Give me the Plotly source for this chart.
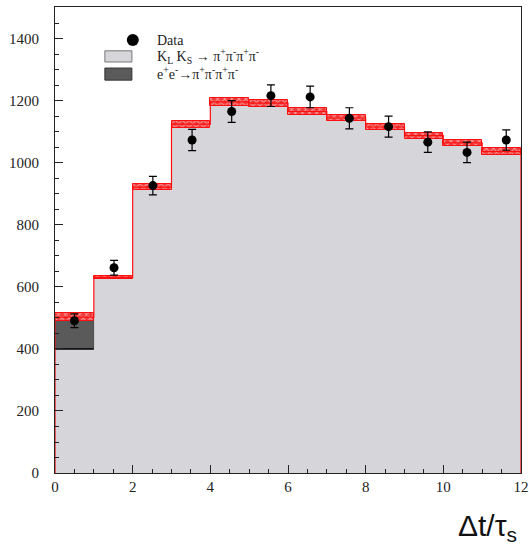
import plotly.graph_objects as go

# ---------------- data ----------------
bin_left = [0, 1, 2, 3, 4, 5, 6, 7, 8, 9, 10, 11]
bin_width = 1.0
klks = [400, 631, 922, 1125, 1197, 1193, 1166, 1145, 1116, 1088, 1065, 1037]
eeb = [103, 0, 0, 0, 0, 0, 0, 0, 0, 0, 0, 0]
mc_err = [12, 5, 10, 11, 12, 11, 10, 11, 11, 10, 10, 10]

data_x = [0.5, 1.52, 2.52, 3.53, 4.55, 5.56, 6.57, 7.58, 8.59, 9.6, 10.61, 11.62]
data_y = [491, 662, 927, 1074, 1166, 1217, 1213, 1144, 1117, 1067, 1034, 1074]
data_err = [22, 24, 30, 34, 35, 35, 35, 34, 34, 33, 33, 33]

x_ticks = [0, 2, 4, 6, 8, 10, 12]
y_ticks = [0, 200, 400, 600, 800, 1000, 1200, 1400]

# ---------------- derived ----------------
centers = [l + bin_width / 2 for l in bin_left]
total = [a + b for a, b in zip(klks, eeb)]
band_base = [t - e for t, e in zip(total, mc_err)]
band_h = [2 * e for e in mc_err]

step_x = [bin_left[0]] + bin_left + [bin_left[-1] + bin_width, bin_left[-1] + bin_width]
step_y = [0] + total + [total[-1], 0]

SERIF = "Liberation Serif"
fig = go.Figure()

# K_L K_S light gray
fig.add_trace(go.Bar(
    x=centers, y=klks, base=[0] * len(klks), width=bin_width,
    marker=dict(color="#d6d6da", line=dict(width=0)),
    showlegend=False, hoverinfo="skip"))
# e+e- dark gray
fig.add_trace(go.Bar(
    x=centers, y=eeb, base=klks, width=bin_width,
    marker=dict(color="#5a5a5a", line=dict(color="#333", width=0.8)),
    showlegend=False, hoverinfo="skip"))
# black top edge of the K_L K_S histogram under the e+e- part (first bin)
fig.add_trace(go.Scatter(
    x=[bin_left[0], bin_left[0] + bin_width], y=[klks[0], klks[0]], mode="lines",
    line=dict(color="black", width=1.5), showlegend=False, hoverinfo="skip"))
# red step line
fig.add_trace(go.Scatter(
    x=step_x, y=step_y, mode="lines", line=dict(color="#ff1010", width=1.2, shape="hv"),
    showlegend=False, hoverinfo="skip"))
# red hatched error band
fig.add_trace(go.Bar(
    x=centers, y=band_h, base=band_base, width=bin_width,
    marker=dict(color="#f03a3a",
                pattern=dict(shape="x", fgcolor="white", bgcolor="#f03a3a", size=5, solidity=0.35),
                line=dict(color="#ff1010", width=1)),
    showlegend=False, hoverinfo="skip"))
# data
fig.add_trace(go.Scatter(
    x=data_x, y=data_y, mode="markers",
    marker=dict(color="black", size=9),
    error_y=dict(type="data", array=data_err, color="black", thickness=1.2, width=4),
    showlegend=False, hoverinfo="skip"))

# ---------------- manual legend ----------------
fig.add_shape(type="rect", xref="paper", yref="paper", x0=0.107, x1=0.165, y0=0.882, y1=0.906,
              fillcolor="#d6d6da", line=dict(color="#777", width=1))
fig.add_shape(type="rect", xref="paper", yref="paper", x0=0.107, x1=0.165, y0=0.843, y1=0.869,
              fillcolor="#5a5a5a", line=dict(color="#333", width=1))
fig.add_trace(go.Scatter(x=[0.167], y=[0.929], xaxis="x2", yaxis="y2", mode="markers",
                         marker=dict(color="black", size=12), showlegend=False, hoverinfo="skip"))
leg_font = dict(family=SERIF, size=14, color="#222")
fig.add_annotation(xref="paper", yref="paper", x=0.214, y=0.929, xanchor="left", yanchor="middle",
                   text="Data", showarrow=False, font=leg_font)
fig.add_annotation(xref="paper", yref="paper", x=0.214, y=0.894, xanchor="left", yanchor="middle",
                   text="K<sub>L</sub> K<sub>S</sub> → π<sup>+</sup>π<sup>-</sup>π<sup>+</sup>π<sup>-</sup>",
                   showarrow=False, font=leg_font)
fig.add_annotation(xref="paper", yref="paper", x=0.214, y=0.858, xanchor="left", yanchor="middle",
                   text="e<sup>+</sup>e<sup>-</sup>→π<sup>+</sup>π<sup>-</sup>π<sup>+</sup>π<sup>-</sup>",
                   showarrow=False, font=leg_font)

# axis title
fig.add_annotation(xref="paper", yref="paper", x=0.996, y=-0.118, xanchor="right", yanchor="middle",
                   text="Δt/τ<sub>s</sub>", showarrow=False,
                   font=dict(family="Liberation Sans", size=30, color="#111"))

fig.update_layout(
    width=529, height=549,
    margin=dict(l=55, r=8, t=7, b=76, autoexpand=False),
    paper_bgcolor="white", plot_bgcolor="white",
    barmode="overlay", bargap=0,
    xaxis=dict(range=[0, 12], tickvals=x_ticks, ticks="inside", ticklen=8, tickcolor="#222",
               minor=dict(dtick=0.5, ticks="inside", ticklen=4, tickcolor="#222"),
               showgrid=False, zeroline=False, showline=True, linecolor="#222", linewidth=1,
               mirror=True, tickfont=dict(family=SERIF, size=15, color="#222"),
               ticklabelstandoff=0, automargin=False),
    yaxis=dict(range=[0, 1503], tickvals=y_ticks, ticks="inside", ticklen=8, tickcolor="#222",
               minor=dict(dtick=50, ticks="inside", ticklen=4, tickcolor="#222"),
               showgrid=False, zeroline=False, showline=True, linecolor="#222", linewidth=1,
               mirror=True, tickfont=dict(family=SERIF, size=15, color="#222"),
               ticklabelstandoff=12, automargin=False),
    xaxis2=dict(range=[0, 1], domain=[0, 1], overlaying="x", visible=False),
    yaxis2=dict(range=[0, 1], domain=[0, 1], overlaying="y", visible=False),
)

fig.write_html("out.html", config={"displayModeBar": False},
               post_script="document.body.style.margin='0';document.body.style.padding='0';")
